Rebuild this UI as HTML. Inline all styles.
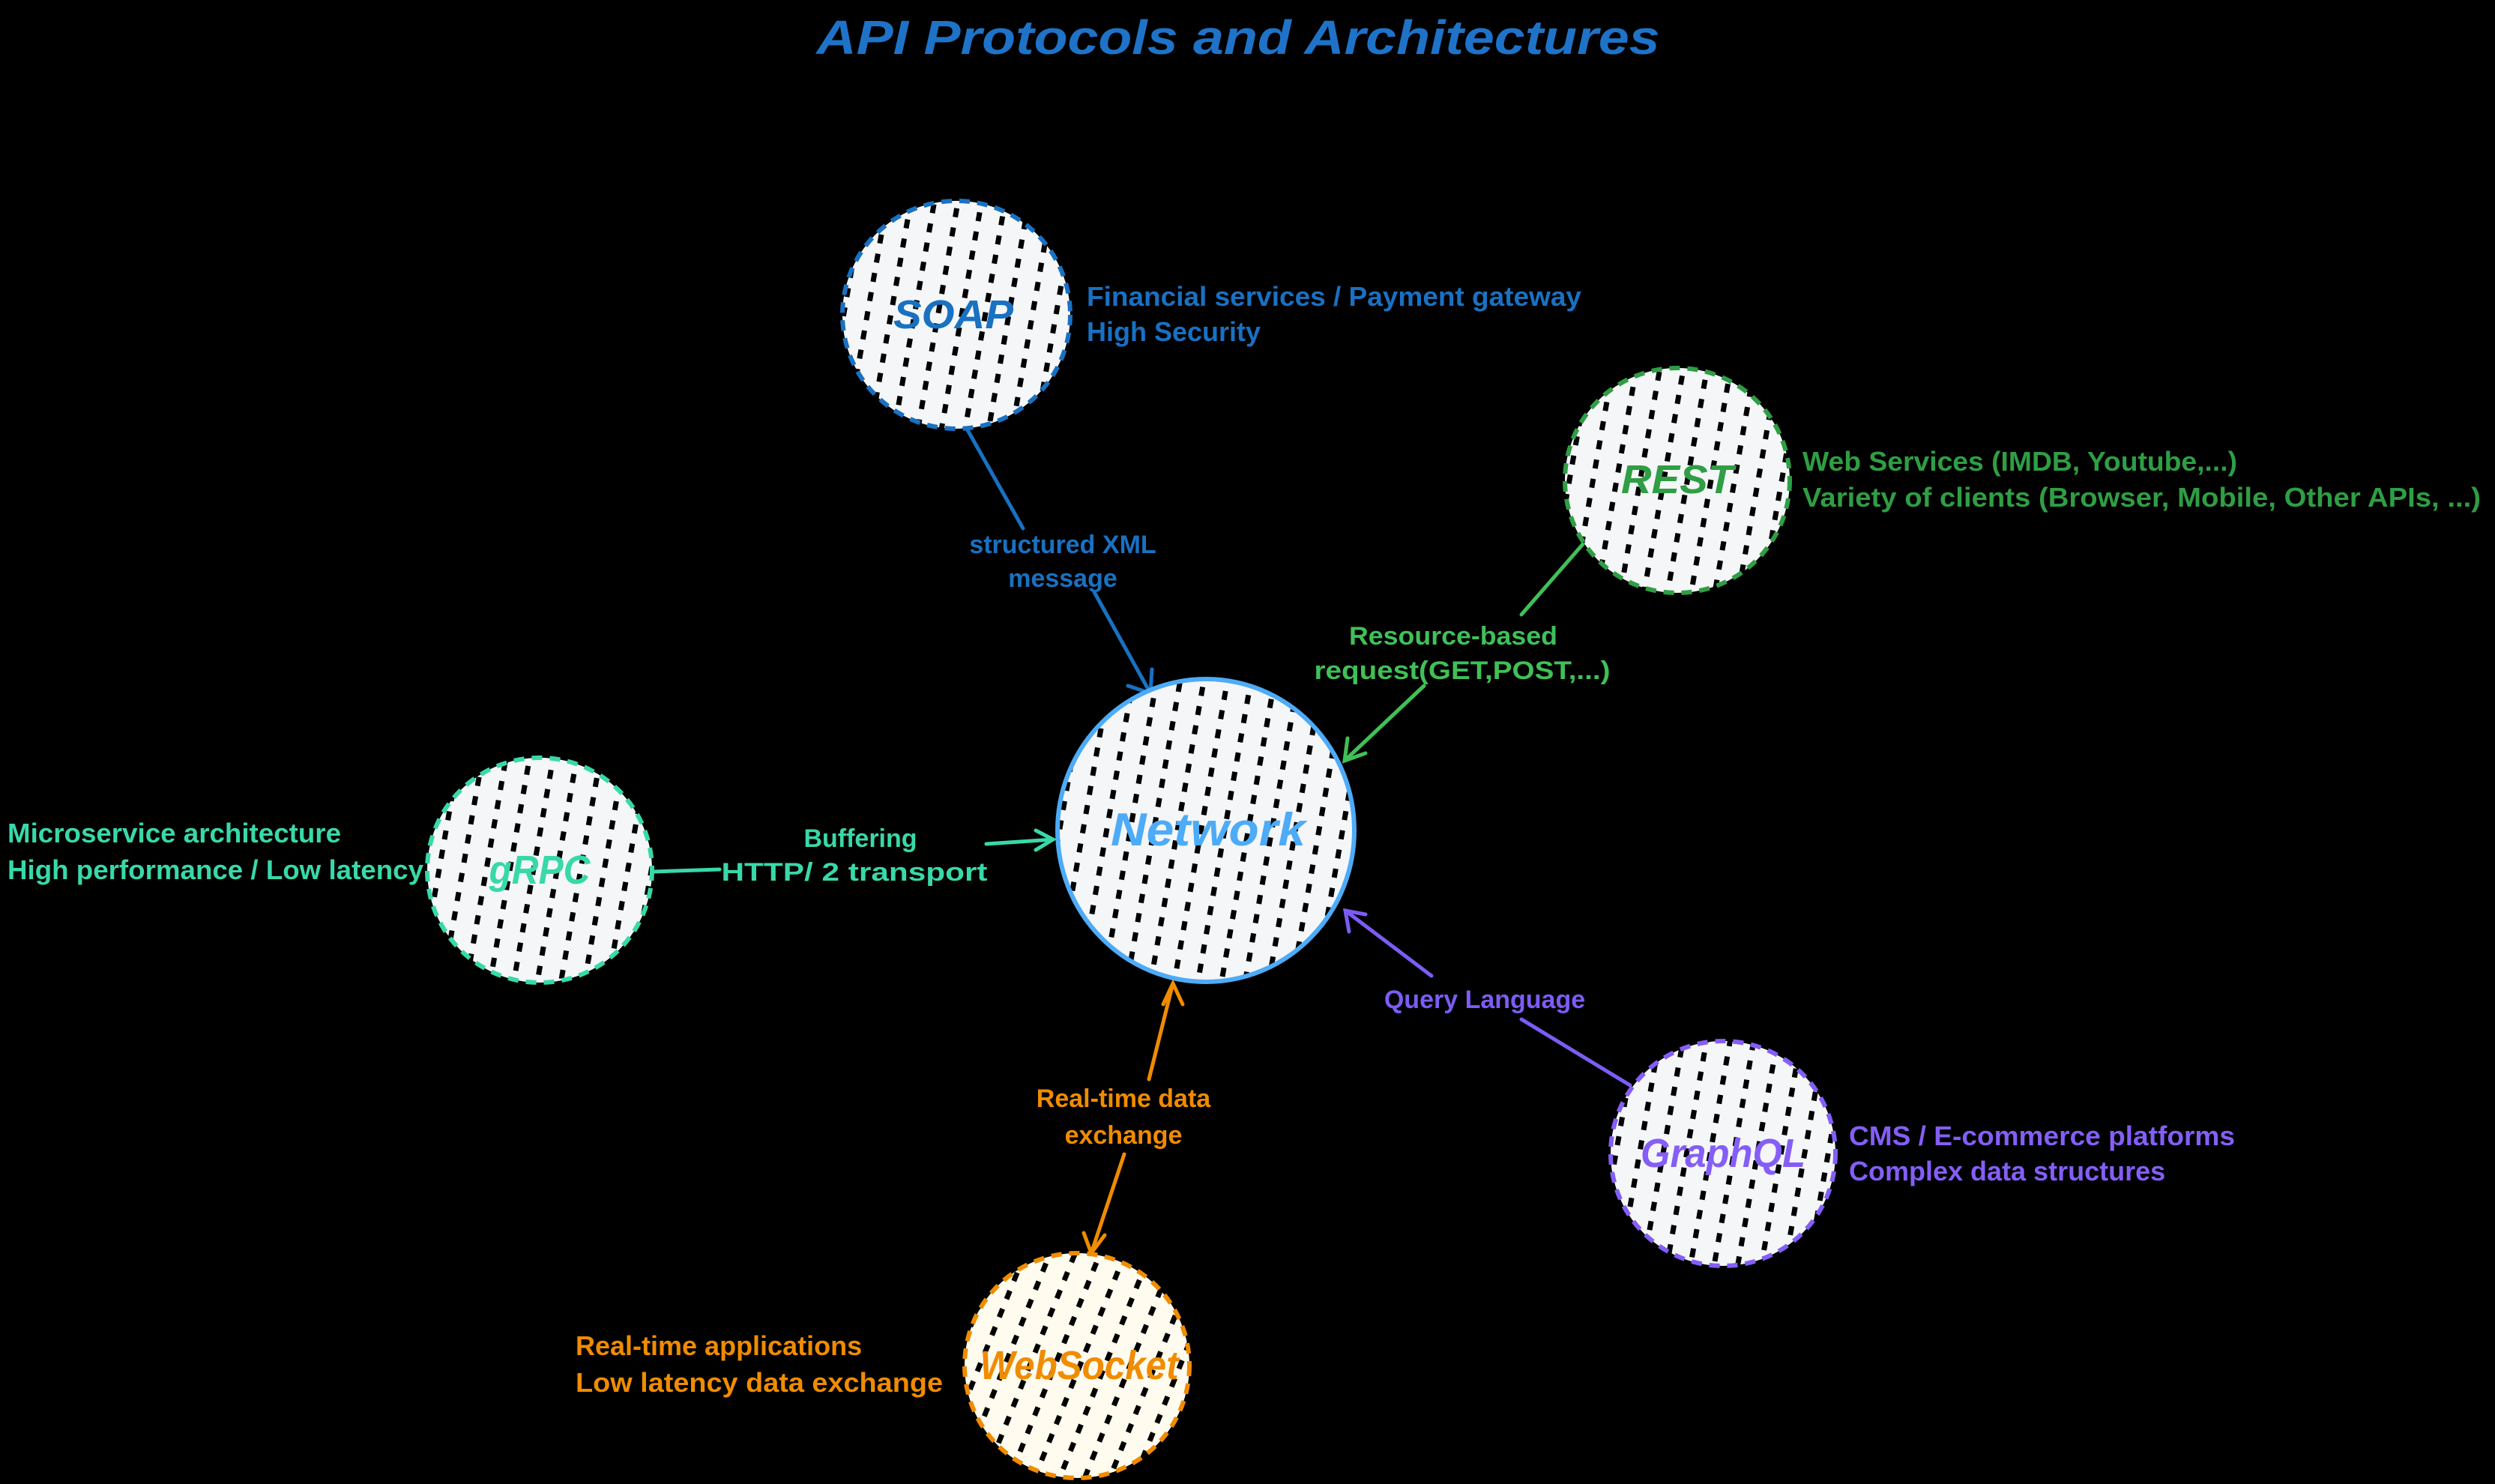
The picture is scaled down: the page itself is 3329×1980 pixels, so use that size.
<!DOCTYPE html>
<html><head><meta charset="utf-8"><style>
html,body{margin:0;padding:0;background:#000;}
svg{display:block;}
text{font-family:"Liberation Sans",sans-serif;}
</style></head><body>
<svg width="3329" height="1980" viewBox="0 0 3329 1980" xmlns="http://www.w3.org/2000/svg">
<defs>
<pattern id="h" width="31" height="26" patternUnits="userSpaceOnUse" patternTransform="rotate(10)">
<rect width="31" height="26" fill="#f4f6f8"/>
<rect x="0" y="0" width="7" height="12" fill="#000"/>
</pattern>
<pattern id="hw" width="31" height="26" patternUnits="userSpaceOnUse" patternTransform="rotate(22)">
<rect width="31" height="26" fill="#fffbef"/>
<rect x="0" y="0" width="7" height="12" fill="#000"/>
</pattern>
</defs>
<rect width="3329" height="1980" fill="#000"/>

<text x="1652" y="72" text-anchor="middle" font-size="64" fill="#1e73c8" font-style="italic" font-weight="bold" textLength="1125" lengthAdjust="spacingAndGlyphs">API Protocols and Architectures</text>

<g stroke-width="5" fill="none" stroke-linecap="round">
<line x1="1290" y1="572" x2="1365" y2="705" stroke="#1971c2"/>
<line x1="1460" y1="790" x2="1535" y2="925" stroke="#1971c2"/>
<path d="M1505,915 L1535,925 L1537,893" stroke="#1971c2"/>
<line x1="2112" y1="726" x2="2030" y2="820" stroke="#40c057"/>
<line x1="1900" y1="915" x2="1794" y2="1015" stroke="#40c057"/>
<path d="M1798,985 L1794,1015 L1822,1005" stroke="#40c057"/>
<line x1="872" y1="1163" x2="960" y2="1160" stroke="#38d9a9"/>
<line x1="1316" y1="1126" x2="1405" y2="1120" stroke="#38d9a9"/>
<path d="M1382,1108 L1405,1120 L1382,1134" stroke="#38d9a9"/>
<line x1="2175" y1="1448" x2="2030" y2="1360" stroke="#7c5cf5"/>
<line x1="1910" y1="1302" x2="1795" y2="1215" stroke="#7c5cf5"/>
<path d="M1800,1243 L1795,1215 L1822,1220" stroke="#7c5cf5"/>
<line x1="1565" y1="1312" x2="1533" y2="1440" stroke="#f08c00"/>
<line x1="1500" y1="1540" x2="1456" y2="1672" stroke="#f08c00"/>
<path d="M1552,1340 L1565,1312 L1578,1340" stroke="#f08c00"/>
<path d="M1446,1645 L1456,1672 L1474,1648" stroke="#f08c00"/>
</g>

<g stroke-width="6" stroke-dasharray="14 10">
<circle cx="1276" cy="420" r="152" fill="url(#h)" stroke="#1971c2"/>
<circle cx="2238" cy="641" r="150" fill="url(#h)" stroke="#2f9e44"/>
<circle cx="720" cy="1161" r="150" fill="url(#h)" stroke="#38d9a9"/>
<circle cx="2299" cy="1539" r="150" fill="url(#h)" stroke="#845ef7"/>
<circle cx="1437" cy="1822" r="150" fill="url(#hw)" stroke="#f08c00"/>
</g>
<ellipse cx="1609" cy="1108" rx="198" ry="202" fill="url(#h)" stroke="#4dabf7" stroke-width="6"/>

<g font-size="54" font-style="italic" font-weight="bold" text-anchor="middle">
<text x="1272" y="438" fill="#1971c2" textLength="160" lengthAdjust="spacingAndGlyphs">SOAP</text>
<text x="2238" y="658" fill="#2f9e44" textLength="150" lengthAdjust="spacingAndGlyphs">REST</text>
<text x="720" y="1179" fill="#38d9a9" textLength="135" lengthAdjust="spacingAndGlyphs">gRPC</text>
<text x="2299" y="1557" fill="#845ef7" textLength="220" lengthAdjust="spacingAndGlyphs">GraphQL</text>
<text x="1440" y="1840" fill="#f08c00" textLength="265" lengthAdjust="spacingAndGlyphs">WebSocket</text>
<text x="1612" y="1128" fill="#4dabf7" font-size="62" textLength="260" lengthAdjust="spacingAndGlyphs">Network</text>
</g>

<g font-size="36" font-weight="bold">
<text x="1450" y="408" fill="#1971c2" textLength="660" lengthAdjust="spacingAndGlyphs">Financial services / Payment gateway</text>
<text x="1450" y="455" fill="#1971c2">High Security</text>
<text x="2405" y="628" fill="#2f9e44" textLength="580" lengthAdjust="spacingAndGlyphs">Web Services (IMDB, Youtube,...)</text>
<text x="2405" y="676" fill="#2f9e44" textLength="905" lengthAdjust="spacingAndGlyphs">Variety of clients (Browser, Mobile, Other APIs, ...)</text>
<text x="10" y="1124" fill="#38d9a9" textLength="445" lengthAdjust="spacingAndGlyphs">Microservice architecture</text>
<text x="10" y="1173" fill="#38d9a9" textLength="555" lengthAdjust="spacingAndGlyphs">High performance / Low latency</text>
<text x="2467" y="1528" fill="#845ef7" textLength="515" lengthAdjust="spacingAndGlyphs">CMS / E-commerce platforms</text>
<text x="2467" y="1575" fill="#845ef7">Complex data structures</text>
<text x="768" y="1808" fill="#f08c00">Real-time applications</text>
<text x="768" y="1857" fill="#f08c00" textLength="490" lengthAdjust="spacingAndGlyphs">Low latency data exchange</text>
</g>

<g font-size="34" font-weight="bold" text-anchor="middle">
<text x="1418" y="738" fill="#1971c2">structured XML</text>
<text x="1418" y="783" fill="#1971c2">message</text>
<text x="1939" y="860" fill="#40c057" textLength="278" lengthAdjust="spacingAndGlyphs">Resource-based</text>
<text x="1951" y="906" fill="#40c057" textLength="395" lengthAdjust="spacingAndGlyphs">request(GET,POST,...)</text>
<text x="1148" y="1130" fill="#38d9a9">Buffering</text>
<text x="1140" y="1175" fill="#38d9a9" textLength="355" lengthAdjust="spacingAndGlyphs">HTTP/ 2 transport</text>
<text x="1981" y="1345" fill="#7c5cf5">Query Language</text>
<text x="1499" y="1477" fill="#f08c00">Real-time data</text>
<text x="1499" y="1526" fill="#f08c00">exchange</text>
</g>
</svg>
</body></html>
